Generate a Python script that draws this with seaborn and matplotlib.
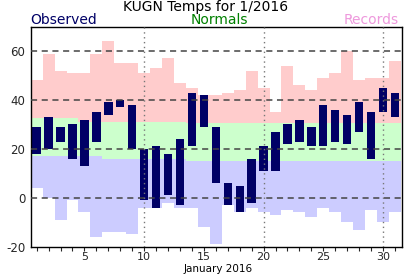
import numpy as np
import pandas as pd
import matplotlib
matplotlib.use("Agg")
import matplotlib.pyplot as plt
import seaborn as sns

days = list(range(1, 32))
obs_high = [29, 33, 29, 30, 32, 35, 39, 40, 38, 20, 21, 18, 24, 43, 42,
            29, 6, 5, 16, 21, 27, 30, 32, 29, 38, 36, 34, 39, 35, 45, 43]
obs_low = [18, 20, 23, 16, 13, 23, 34, 37, 20, -1, -4, 1, -3, 21, 29,
           6, -3, -6, -2, 11, 11, 22, 23, 21, 21, 23, 22, 27, 16, 35, 33]
norm_high = [32.5] * 4 + [31] * 9 + [30.4] * 18
norm_low = [17] * 6 + [16] * 7 + [15] * 18
rec_high = [48, 59, 52, 51, 51, 59, 64, 55, 55, 51, 53, 57, 47, 45, 42,
            42, 43, 44, 52, 45, 35, 54, 46, 44, 49, 51, 60, 48, 49, 49, 56]
rec_low = [4, 0, -9, -1, -6, -16, -14, -14, -15, -4, -4, -2, -4, -4, -12,
           -19, -3, -6, -4, -6, -7, -5, -6, -8, -4, -6, -10, -13, -5, -10, -6]
y_ticks = [-20, 0, 20, 40, 60]
x_ticks = [5, 10, 15, 20, 25, 30]

df = pd.DataFrame({"day": days, "high": obs_high, "low": obs_low})
df["span"] = df["high"] - df["low"]

sns.set_style("white")
plt.rcParams["font.family"] = ["DejaVu Sans"]
plt.rcParams["axes.unicode_minus"] = False

W, H = 412, 276
fig = plt.figure(figsize=(W / 100, H / 100), dpi=100)
ax = fig.add_axes([30.7 / W, 1 - 246.7 / H, (401.5 - 30.7) / W, (246.7 - 26.7) / H])

edges = np.arange(0.5, 32.5, 1.0)
ax.stairs(rec_high, edges, baseline=norm_high, fill=True, color="#ffcccc", lw=0, zorder=1)
ax.stairs(norm_high, edges, baseline=norm_low, fill=True, color="#ccffcc", lw=0, zorder=1)
ax.stairs(norm_low, edges, baseline=rec_low, fill=True, color="#ccccff", lw=0, zorder=1)

sns.barplot(data=df, x="day", y="span", bottom=df["low"].to_numpy(), native_scale=True,
            width=0.7, color="#000066", saturation=1, linewidth=0, ax=ax, zorder=2)

for v in [0, 20, 40, 60]:
    ax.axhline(v, color="#444444", lw=1.1, ls=(0, (4, 3)), zorder=3)
for d in [10, 20, 30]:
    ax.axvline(d, color="#777777", lw=1.0, ls=(0, (1, 2.5)), zorder=3)

ax.set_xlim(0.5, 31.55)
ax.set_ylim(-20, 70)
ax.set_yticks(y_ticks)
ax.set_yticklabels([str(t) for t in y_ticks], fontsize=8.5)
ax.set_xticks(x_ticks)
ax.set_xticklabels([str(t) for t in x_ticks], fontsize=8)
ax.set_xticks(days, minor=True)
ax.tick_params(axis="x", which="both", direction="out", length=3, width=0.8, pad=1, bottom=True)
ax.tick_params(axis="y", which="both", length=0, pad=4)
ax.set_xlabel("")
ax.set_ylabel("")
for s in ax.spines.values():
    s.set_visible(True)
    s.set_color("black")
    s.set_linewidth(1.0)

fig.text(206 / W, 1 - 7 / H, "KUGN Temps for 1/2016", ha="center", va="center", fontsize=10, color="black")
fig.text(30 / W, 1 - 19.5 / H, "Observed", ha="left", va="center", fontsize=10, color="#000066")
fig.text(219 / W, 1 - 19.5 / H, "Normals", ha="center", va="center", fontsize=10, color="#008000")
fig.text(399 / W, 1 - 19.5 / H, "Records", ha="right", va="center", fontsize=10, color="#ee99dd")
fig.text(218 / W, 1 - 269.5 / H, "January 2016", ha="center", va="center", fontsize=7.5, color="black")

fig.savefig("out.png", dpi=100, facecolor="white")
